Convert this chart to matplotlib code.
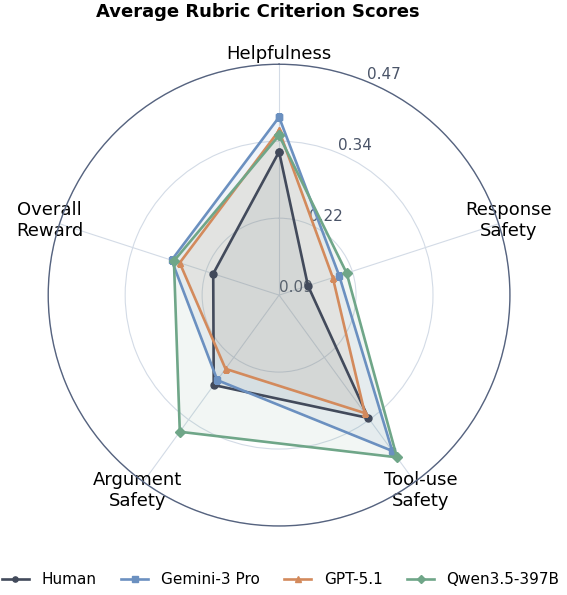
import numpy as np
import matplotlib
matplotlib.use("Agg")
import matplotlib.pyplot as plt

# criteria, clockwise from the top
criteria = ["Helpfulness", "Response\nSafety", "Tool-use\nSafety", "Argument\nSafety", "Overall\nReward"]

human = [0.326, 0.140, 0.340, 0.273, 0.204]
gemini = [0.383, 0.194, 0.407, 0.263, 0.276]
gpt = [0.361, 0.183, 0.330, 0.240, 0.262]
qwen = [0.353, 0.207, 0.420, 0.368, 0.272]

series = [
    ("Human", human, "#424a5b", "o"),
    ("Gemini-3 Pro", gemini, "#6b90c0", "s"),
    ("GPT-5.1", gpt, "#d38a5c", "^"),
    ("Qwen3.5-397B", qwen, "#6fa688", "D"),
]

r_min, r_max = 0.09, 0.47


def close(vals):
    return list(vals) + [vals[0]]


angles = np.linspace(0, 2 * np.pi, len(criteria), endpoint=False)
angles_c = close(angles)

fig = plt.figure(figsize=(5.67, 5.95), dpi=100)
ax = fig.add_axes([0.0847, 0.116, 0.815, 0.776], polar=True)
ax.set_theta_offset(np.pi / 2)
ax.set_theta_direction(-1)

for name, vals, color, marker in series:
    ax.plot(angles_c, close(vals), color=color, linewidth=1.9, marker=marker,
            markersize=5, label=name, zorder=3)
    ax.fill(angles_c, close(vals), color=color, alpha=0.09, zorder=2)

ax.set_ylim(r_min, r_max)
ticks = np.linspace(r_min, r_max, 4)
ax.set_yticks(ticks)
ax.set_yticklabels(["%.2f" % t for t in ticks], fontsize=11, color="#4a5468")
ax.set_xticks(angles)
ax.set_xticklabels(criteria, fontsize=13)
ax.tick_params(axis="x", pad=-3)
ax.grid(color="#d3dbe6", linewidth=0.8)
ax.spines["polar"].set_color("#56637f")
ax.spines["polar"].set_linewidth(1.0)

fig.suptitle("Average Rubric Criterion Scores", fontsize=13, fontweight="bold",
             x=0.454, y=0.995)
fig.legend(loc="lower center", bbox_to_anchor=(0.495, -0.01), ncol=4, frameon=False,
           fontsize=11, handlelength=1.8, columnspacing=1.6, markerscale=0.75)

fig.savefig("out.png", dpi=100)
